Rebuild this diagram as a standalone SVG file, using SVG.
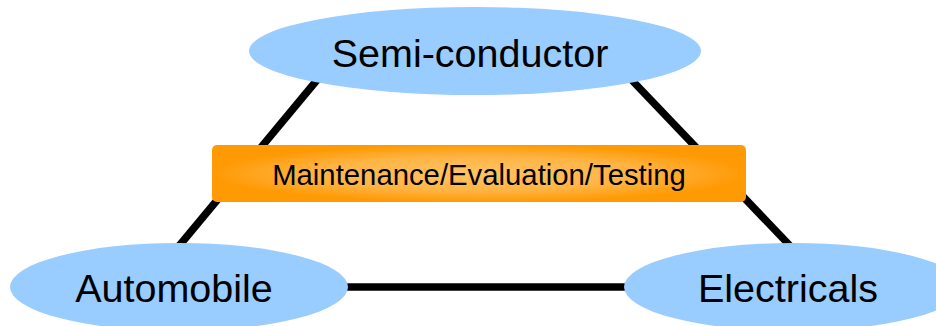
<svg xmlns="http://www.w3.org/2000/svg" width="936" height="326" viewBox="0 0 936 326">
  <defs>
    <radialGradient id="boxFill" cx="0.5" cy="0.5" r="0.5">
      <stop offset="0" stop-color="#FFC463"/>
      <stop offset="0.6" stop-color="#FFB444"/>
      <stop offset="1" stop-color="#FF9A05"/>
    </radialGradient>
    <style>
      .link { stroke: #000000; stroke-width: 7.5; fill: none; stroke-linecap: butt; }
      .field { fill: #99CCFF; stroke: none; }
      .label { font-family: "Liberation Sans", Arial, sans-serif; fill: #000000; text-anchor: middle; }
      .big { font-size: 39.5px; }
      .small { font-size: 29.3px; }
    </style>
  </defs>
  <rect width="936" height="326" fill="#FFFFFF"/>

  <!-- connectors between the three fields -->
  <g id="connectors">
    <line class="link" x1="322" y1="74" x2="174" y2="252"/>
    <line class="link" x1="626" y1="74" x2="795" y2="251"/>
    <line class="link" x1="340" y1="287" x2="632" y2="287"/>
  </g>

  <g id="semiconductor">
    <ellipse class="field" cx="475" cy="51" rx="226" ry="44"/>
    <text class="label big" x="470" y="67">Semi-conductor</text>
  </g>

  <g id="automobile">
    <ellipse class="field" cx="179" cy="287" rx="169" ry="44"/>
    <text class="label big" x="174" y="302">Automobile</text>
  </g>

  <g id="electricals">
    <ellipse class="field" cx="793" cy="287" rx="169" ry="44"/>
    <text class="label big" x="788" y="302">Electricals</text>
  </g>

  <g id="maintenance">
    <rect x="212" y="145" width="534" height="57" rx="5" ry="5" fill="url(#boxFill)"/>
    <text class="label small" x="479" y="185">Maintenance/Evaluation/Testing</text>
  </g>
</svg>
